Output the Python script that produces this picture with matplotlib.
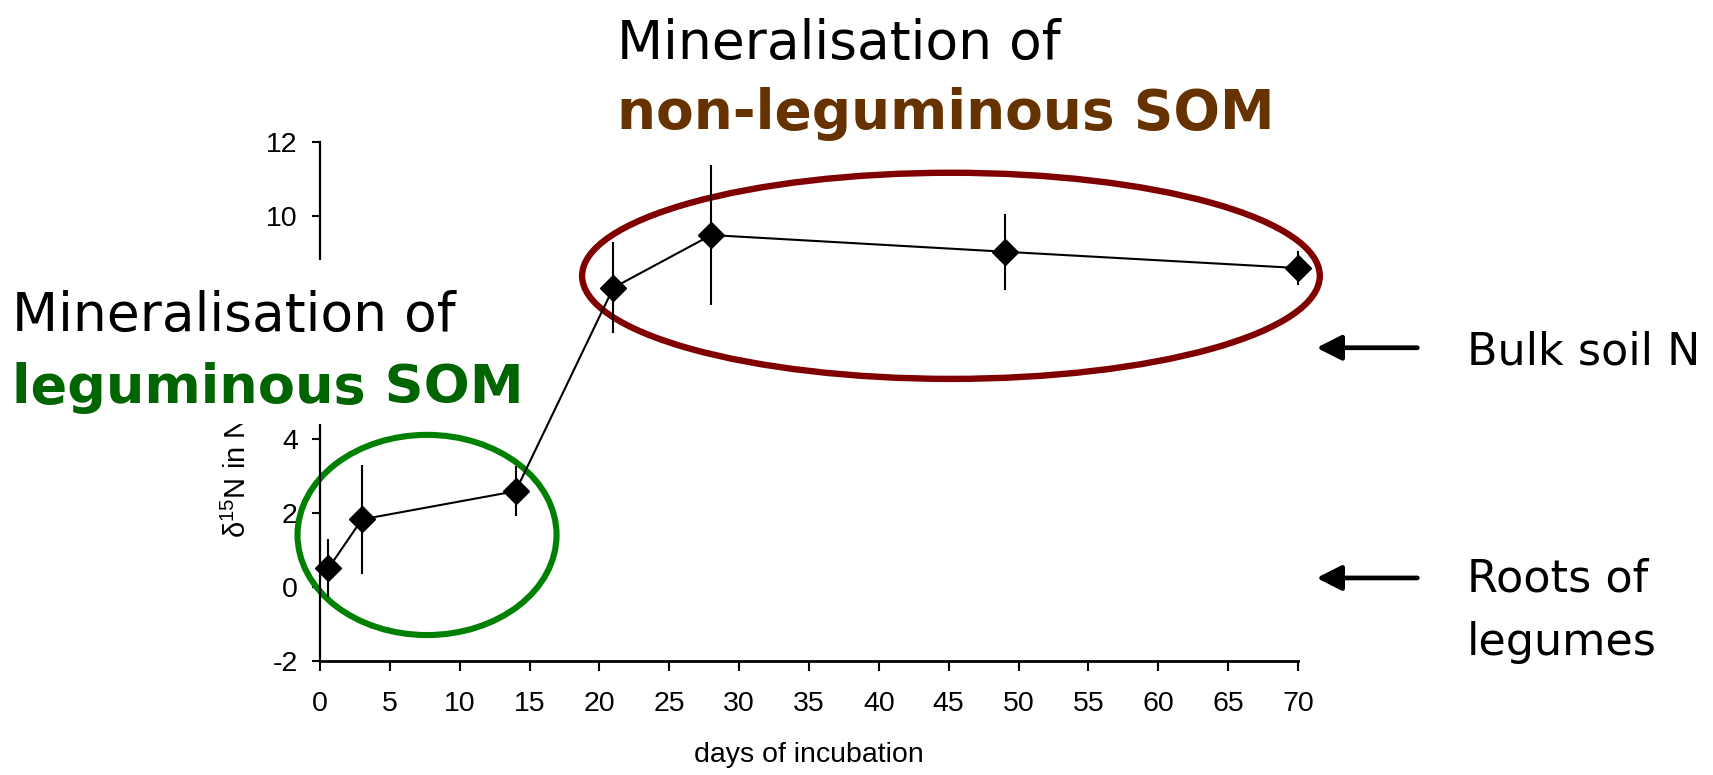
import matplotlib
matplotlib.use("Agg")
import matplotlib.pyplot as plt
from matplotlib.patches import Ellipse, Rectangle
import matplotlib.transforms as mtransforms

# ---- data ----
days = [0.6, 3, 14, 21, 28, 49, 70]
d15n = [0.50, 1.82, 2.58, 8.07, 9.49, 9.04, 8.60]
err = [0.78, 1.47, 0.67, 1.22, 1.88, 1.03, 0.47]
xticks = list(range(0, 71, 5))
yticks = [-2, 0, 2, 4, 6, 8, 10, 12]
ytick_labels = ['-2', '0', '2', '4', '', '', '10', '12']  # 6 and 8 hidden by the note
ref_values = [6.45, 0.24]
ref_labels = ["Bulk soil N", "Roots of\nlegumes"]

plt.rcParams['axes.unicode_minus'] = False
plt.rcParams['mathtext.fontset'] = 'custom'
plt.rcParams['mathtext.rm'] = 'Liberation Sans'
plt.rcParams['mathtext.it'] = 'Liberation Sans'

W, H = 1713, 775
fig = plt.figure(figsize=(W / 100, H / 100), dpi=100)
ax = fig.add_axes([320 / W, 1 - 661 / H, 978 / W, 519 / H])

ax.errorbar(days, d15n, yerr=err, color='black', lw=1.5, elinewidth=1.5,
            capsize=0, marker='D', markersize=13, mfc='black', mec='black',
            zorder=4, clip_on=False)

ax.set_xlim(0, 70)
ax.set_ylim(-2, 12)
ax.set_xticks(xticks)
ax.set_yticks(yticks)
ax.set_yticklabels(ytick_labels)
for s in ['top', 'right']:
    ax.spines[s].set_visible(False)
ax.spines['left'].set_linewidth(1.6)
ax.spines['bottom'].set_linewidth(2.0)
ax.tick_params(axis='y', length=6, width=1.5, pad=10, labelsize=20.5,
               direction='out')
ax.tick_params(axis='x', length=7.5, width=1.5, pad=14, labelsize=20.5,
               direction='out')
for lab in ax.get_xticklabels() + ax.get_yticklabels():
    lab.set_family('Liberation Sans')

ax.set_xlabel('days of incubation', fontsize=20.5, family='Liberation Sans',
              labelpad=18)
ax.set_ylabel('δ$^{15}$N in NO$_3^-$ (‰)', fontsize=21,
              family='Liberation Sans', loc='bottom')
ax.yaxis.set_label_coords(-0.0655, 0.237)

# circled groups
ax.add_patch(Ellipse((7.66, 1.40), 18.54, 5.40, fill=False, ec='#008000',
                     lw=4.4, clip_on=False, zorder=2))
ax.add_patch(Ellipse((45.16, 8.39), 52.8, 5.56, fill=False, ec='#800000',
                     lw=4.6, clip_on=False, zorder=2))

# reference arrows
blend = mtransforms.blended_transform_factory(ax.transAxes, ax.transData)
for val, lab in zip(ref_values, ref_labels):
    ax.annotate('', xy=(1.019, val), xycoords=blend,
                xytext=(1.122, val), textcoords=blend,
                arrowprops=dict(arrowstyle='-|>,head_length=0.75,head_width=0.38',
                                lw=3.4, color='black', shrinkA=0, shrinkB=0,
                                mutation_scale=20),
                annotation_clip=False)
    nlines = lab.count('\n') + 1
    ax.annotate(lab, xy=(1.173, val), xycoords=blend,
                xytext=(0, -17 - 60 * (nlines - 1)),
                textcoords='offset pixels', va='baseline', ha='left',
                fontsize=32, family='DejaVu Sans', linespacing=1.6,
                annotation_clip=False)

# white box hiding part of the axis behind the left annotation
fig.patches.append(Rectangle((0, 1 - 424 / H), 540 / W, 164 / H,
                             transform=fig.transFigure, fc='white',
                             ec='none', zorder=1))

fig.text(12 / W, 1 - 331 / H, 'Mineralisation of', fontsize=38.5,
         family='DejaVu Sans', va='baseline', ha='left', zorder=3)
fig.text(12 / W, 1 - 403 / H, 'leguminous SOM', fontsize=39,
         family='DejaVu Sans', weight='bold', color='#006400',
         va='baseline', ha='left', zorder=3)
fig.text(617 / W, 1 - 59 / H, 'Mineralisation of', fontsize=38.5,
         family='DejaVu Sans', va='baseline', ha='left', zorder=3)
fig.text(617 / W, 1 - 129 / H, 'non-leguminous SOM', fontsize=39.5,
         family='DejaVu Sans', weight='bold', color='#663300',
         va='baseline', ha='left', zorder=3)

fig.savefig('out.png', dpi=100)
